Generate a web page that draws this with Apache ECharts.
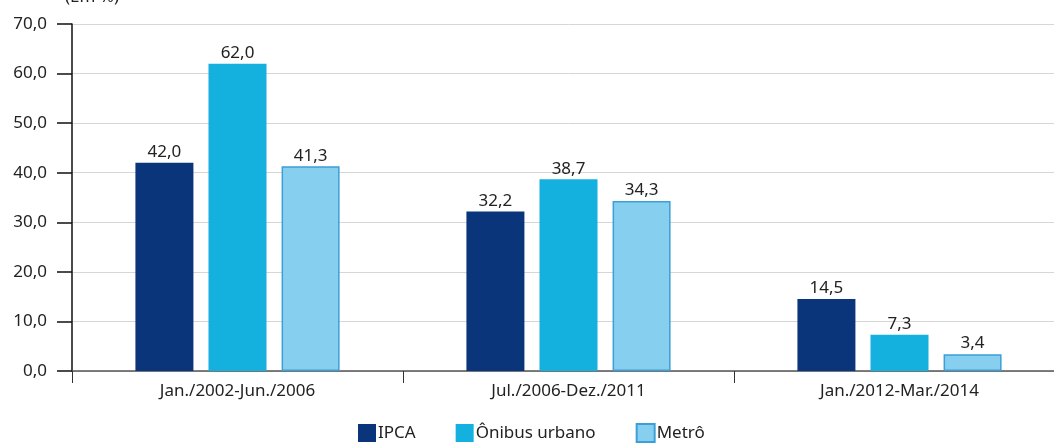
<!DOCTYPE html>
<html>
<head>
<meta charset="utf-8">
<script src="https://cdn.jsdelivr.net/npm/echarts@6/dist/echarts.min.js"></script>
<style>
  html, body { margin: 0; padding: 0; background: #fff; overflow: hidden; }
  #chart { width: 1065px; height: 447px; }
</style>
</head>
<body>
<div id="chart"></div>
<script>
const categories = ['Jan./2002-Jun./2006', 'Jul./2006-Dez./2011', 'Jan./2012-Mar./2014'];
const ipca = [42.0, 32.2, 14.5];
const onibus = [62.0, 38.7, 7.3];
const metro = [41.3, 34.3, 3.4];

const fmt = (v) => v.toFixed(1).replace('.', ',');
const font = 'Noto Sans, sans-serif';

const chart = echarts.init(document.getElementById('chart'));

const label = {
  show: true,
  position: 'top',
  distance: 2,
  color: '#222',
  fontSize: 17,
  fontFamily: font,
  formatter: (p) => fmt(p.value)
};

chart.setOption({
  animation: false,
  title: {
    text: '(Em %)',
    left: 60,
    top: -16,
    textStyle: { fontSize: 17, fontWeight: 'normal', color: '#222', fontFamily: font }
  },
  legend: {
    bottom: -1,
    left: 353,
    itemWidth: 18,
    itemHeight: 18,
    itemGap: 40,
    icon: 'rect',
    textStyle: { fontSize: 17, color: '#222', fontFamily: font, padding: [0, 0, 0, -3] },
    data: ['IPCA', 'Ônibus urbano', 'Metrô']
  },
  grid: { left: 72, top: 24, right: 0, bottom: 76, containLabel: false },
  xAxis: {
    type: 'category',
    data: categories,
    axisLine: { lineStyle: { color: '#555', width: 1.5 } },
    axisTick: { show: true, alignWithLabel: false, length: 12, lineStyle: { color: '#333' } },
    axisLabel: { fontSize: 17, color: '#222', fontFamily: font, margin: 12 }
  },
  yAxis: {
    type: 'value',
    min: 0,
    max: 70,
    interval: 10,
    axisLine: { show: true, lineStyle: { color: '#111', width: 1.5 } },
    axisTick: { show: true, inside: false, length: 15, lineStyle: { color: '#111', width: 1.5 } },
    splitLine: { lineStyle: { color: '#d6d6d6' } },
    axisLabel: { fontSize: 17, color: '#222', fontFamily: font, margin: 25, formatter: (v) => fmt(v) }
  },
  series: [
    {
      name: 'IPCA', type: 'bar', data: ipca, barWidth: 58, barGap: '26%',
      itemStyle: { color: '#0b357a' }, label
    },
    {
      name: 'Ônibus urbano', type: 'bar', data: onibus, barWidth: 58, barGap: '26%',
      itemStyle: { color: '#14b0de' }, label
    },
    {
      name: 'Metrô', type: 'bar', data: metro, barWidth: 58, barGap: '26%',
      itemStyle: { color: '#87cfee', borderColor: '#3c9fd8', borderWidth: 1.5 }, label
    }
  ]
});
</script>
</body>
</html>
